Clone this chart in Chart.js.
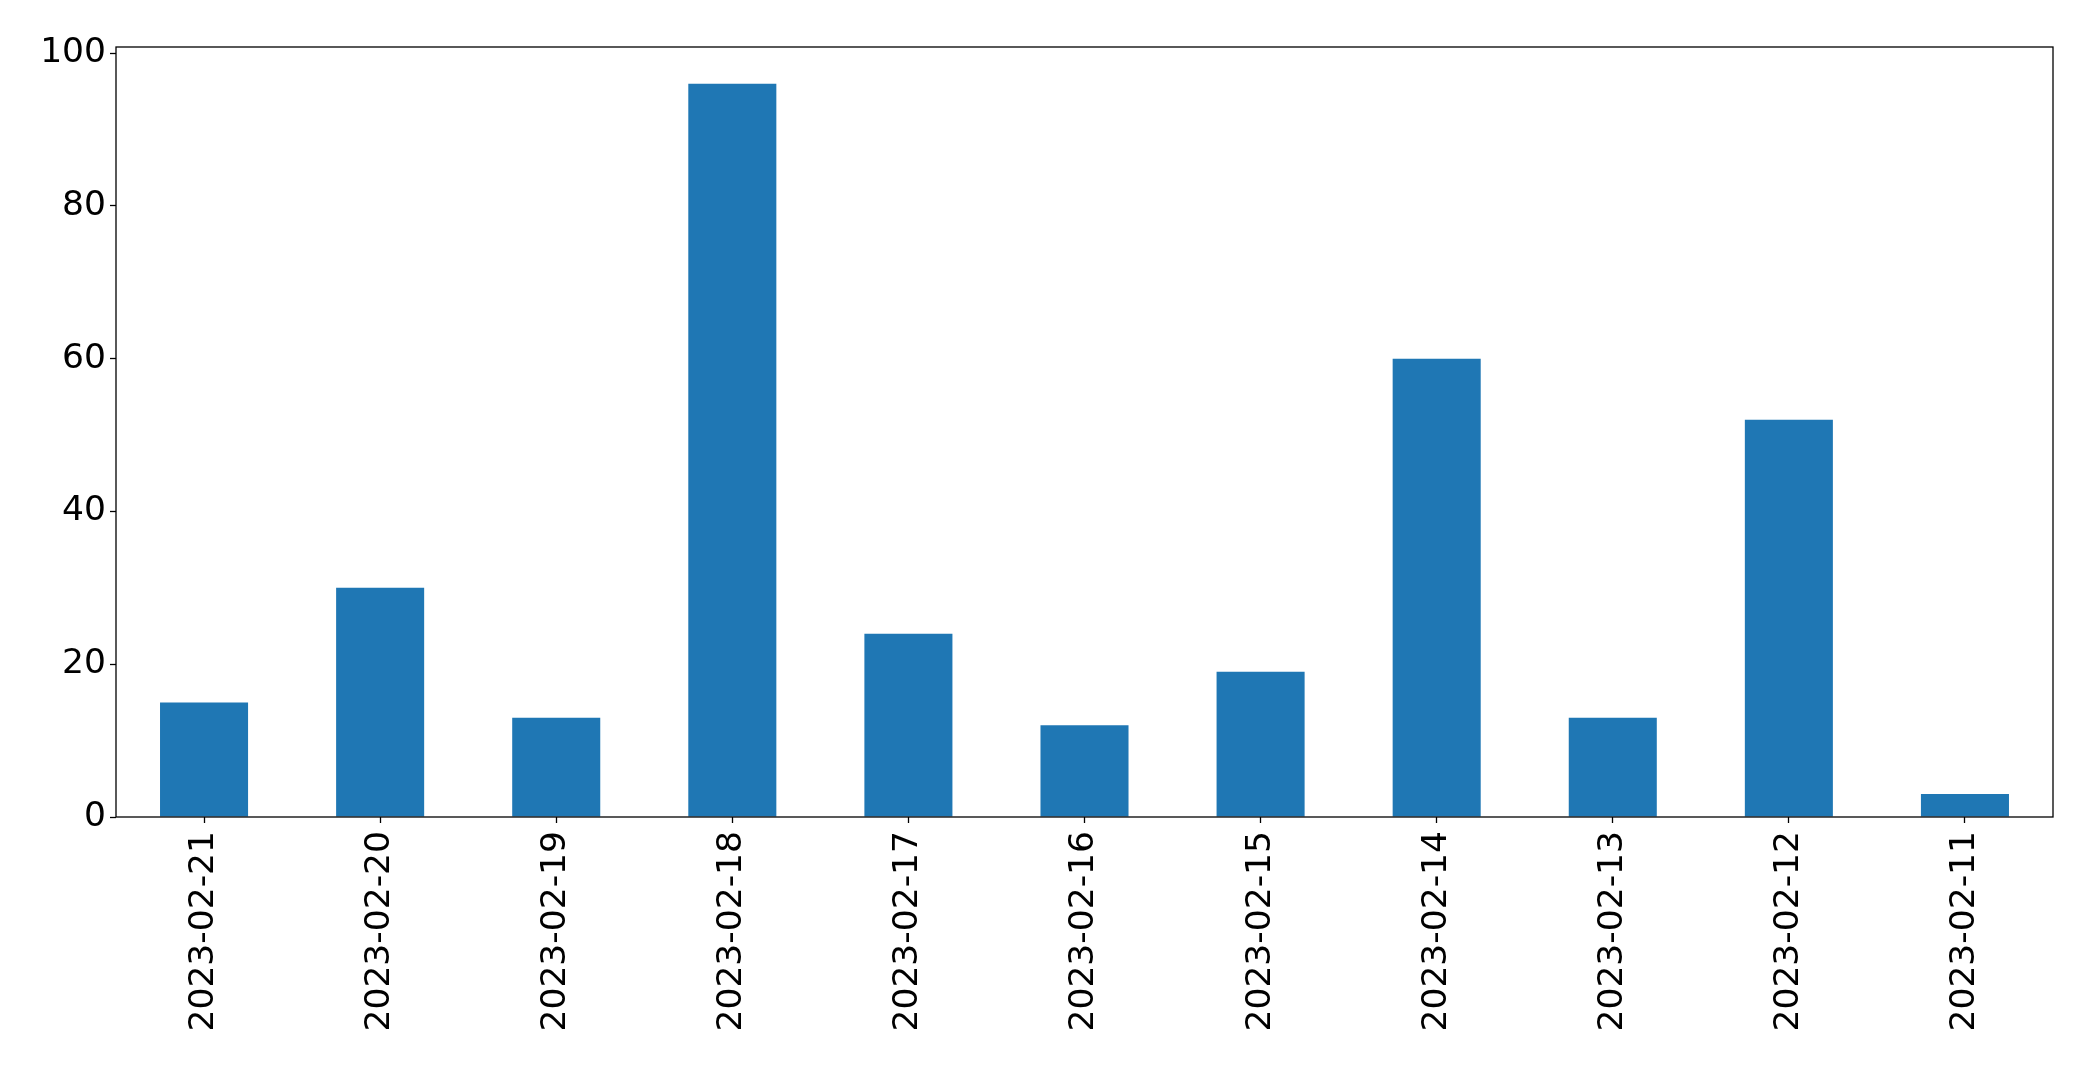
<!DOCTYPE html>
<html>
<head>
<meta charset="utf-8">
<script src="https://cdn.jsdelivr.net/npm/chart.js@4"></script>
<style>
  html, body { margin: 0; padding: 0; background: #fff; }
  #wrap { width: 2093px; height: 1069px; }
</style>
</head>
<body>
<div id="wrap"><canvas id="barChart"></canvas></div>
<script>
// Daily counts, newest first (as in the reference)
const dates = ['2023-02-21', '2023-02-20', '2023-02-19', '2023-02-18', '2023-02-17', '2023-02-16',
               '2023-02-15', '2023-02-14', '2023-02-13', '2023-02-12', '2023-02-11'];
const counts = [15, 30, 13, 96, 24, 12, 19, 60, 13, 52, 3];
const yTicks = [0, 20, 40, 60, 80, 100];

Chart.defaults.font.family = "'DejaVu Sans', sans-serif";
Chart.defaults.color = '#000';

// Draw the full box around the plot area, like matplotlib spines
const frame = {
    id: 'frame',
    afterDraw(chart) {
        const { ctx, chartArea: a } = chart;
        ctx.save();
        ctx.strokeStyle = '#000';
        ctx.lineWidth = 1.3;
        ctx.strokeRect(a.left, a.top, a.right - a.left, a.bottom - a.top);
        ctx.restore();
    }
};

new Chart(document.getElementById('barChart'), {
    type: 'bar',
    data: {
        labels: dates,
        datasets: [{
            data: counts,
            backgroundColor: '#1f77b4',
            borderWidth: 0,
            categoryPercentage: 1.0,
            barPercentage: 0.5
        }]
    },
    options: {
        responsive: true,
        maintainAspectRatio: false,
        animation: false,
        devicePixelRatio: 1,
        layout: { padding: { left: 0, top: 47, right: 40, bottom: 0 } },
        plugins: {
            legend: { display: false },
            tooltip: { enabled: false }
        },
        scales: {
            x: {
                offset: true,
                grid: { display: true, offset: false, drawOnChartArea: false, tickLength: 6, tickColor: '#000', tickWidth: 1.3 },
                border: { display: false },
                ticks: { font: { size: 34.5 }, maxRotation: 90, minRotation: 90, padding: 8, autoSkip: false },
                afterFit(scale) { scale.height = 252; }
            },
            y: {
                min: 0,
                max: 100.8,
                grid: { display: true, drawOnChartArea: false, tickLength: 6, tickColor: '#000', tickWidth: 1.3 },
                border: { display: false },
                ticks: { font: { size: 34.5 }, padding: 4 },
                afterBuildTicks(scale) { scale.ticks = yTicks.map(v => ({ value: v })); },
                afterFit(scale) { scale.width = 116; }
            }
        }
    },
    plugins: [frame]
});
</script>
</body>
</html>
